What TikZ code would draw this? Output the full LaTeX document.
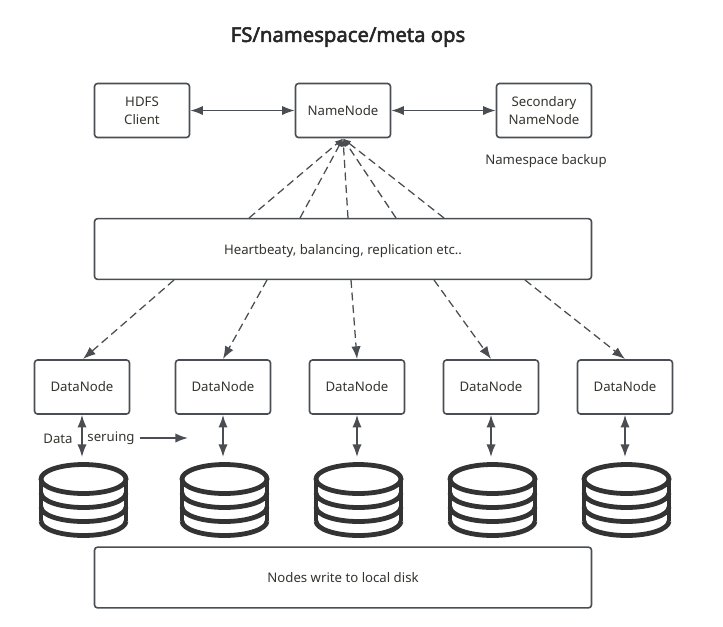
\documentclass[tikz,border=0pt]{standalone}
\usepackage{fontspec}
\setmainfont{Noto Sans}
\usetikzlibrary{arrows.meta}
\definecolor{linecol}{HTML}{4A4E52}
\definecolor{textcol}{HTML}{33352F}
\definecolor{diskcol}{HTML}{333333}
\newfontfamily\titlefont[RawFeature={embolden=2.5}]{Noto Sans}
\tikzset{
	boxnode/.style={draw=linecol, line width=1.2pt, rounded corners=2.2pt, fill=white, text=textcol, align=center, font=\fontsize{9.9}{13.5}\selectfont, inner sep=0pt},
	smallbox/.style={boxnode, minimum width=71.2pt, minimum height=40.5pt},
	widebox/.style={boxnode, minimum width=372.7pt, minimum height=45.5pt, text height=7.5pt, text depth=0pt},
	labelnode/.style={text=textcol, font=\fontsize{9.9}{13.5}\selectfont, inner sep=0pt},
	link/.style={draw=linecol, line width=1.2pt, <->},
	hbline/.style={draw=linecol, line width=0.95pt, dash pattern=on 6pt off 3.4pt},
}
\begin{document}
\begin{tikzpicture}[x=0.75pt,y=-0.75pt,>={Latex[length=9.5pt,width=7pt]}]
		\useasboundingbox (0,0) rectangle (723,626);
		\node [text=black!85, font=\titlefont\fontsize{15.2}{18}\selectfont] (title) at (348,37) {FS/namespace/meta ops};
		%Top row
		\node [smallbox] (client) at (142,110.5) {HDFS\\Client};
		\node [smallbox] (name) at (343,110.5) {NameNode};
		\node [smallbox] (second) at (544,110.5) {Secondary\\NameNode};
		\node [labelnode] (backup) at (546,161.5) {Namespace backup};
		\draw [link] (client) -- (name);
		\draw [link] (name) -- (second);
		%Wide boxes
		\node [widebox] (beat) at (343,249) {Heartbeaty, balancing, replication etc..};
		\node [widebox] (local) at (343,577.5) {Nodes write to local disk};
		%Heartbeat to NameNode
		\foreach \x/\n in {249/a,300/b,348/c,396/d,444/e}
			\coordinate (up\n) at (\x,218);
		\coordinate (nametip) at (343,138.5);
		\foreach \n in {a,b,c,d,e}
			\draw [hbline, -{Latex[length=6pt,width=4.5pt]}] (up\n) -- (nametip);
		%DataNodes and disks
		\foreach \i/\x in {1/82,2/223,3/357,4/491,5/625} {
			\node [smallbox] (data\i) at (\x,387) {DataNode};
			\coordinate (disk\i) at (\x,457);
			\draw [link] (data\i) -- (disk\i);
			\begin{scope}[shift={(\x+1.5,0)}]
				\draw [diskcol, line width=3.6pt] (0,479) ellipse (42.5 and 14.5);
				\draw [diskcol, line width=3.6pt] (-42.5,479) -- (-42.5,521) (42.5,479) -- (42.5,521);
				\foreach \y in {493,507,521}
					\draw [diskcol, line width=3.6pt] (-42.5,\y) arc (180:0:42.5 and 14.5);
			\end{scope}
		}
		%Heartbeat to DataNodes
		\foreach \i/\x/\t in {1/174/83,2/267/223,3/351/357,4/434/491,5/525/625} {
			\coordinate (down\i) at (\x,280);
			\coordinate (tip\i) at (\t,359);
			\draw [hbline, ->] (down\i) -- (tip\i);
		}
		%Data serving label
		\node [labelnode] (datalabel) at (58,438.5) {Data};
		\node [labelnode] (servlabel) at (111,438.5) {seruing};
		\coordinate (servstart) at (140,438);
		\coordinate (servend) at (188,438);
		\draw [draw=linecol, line width=1.2pt, ->] (servstart) -- (servend);
	\end{tikzpicture}
\end{document}
